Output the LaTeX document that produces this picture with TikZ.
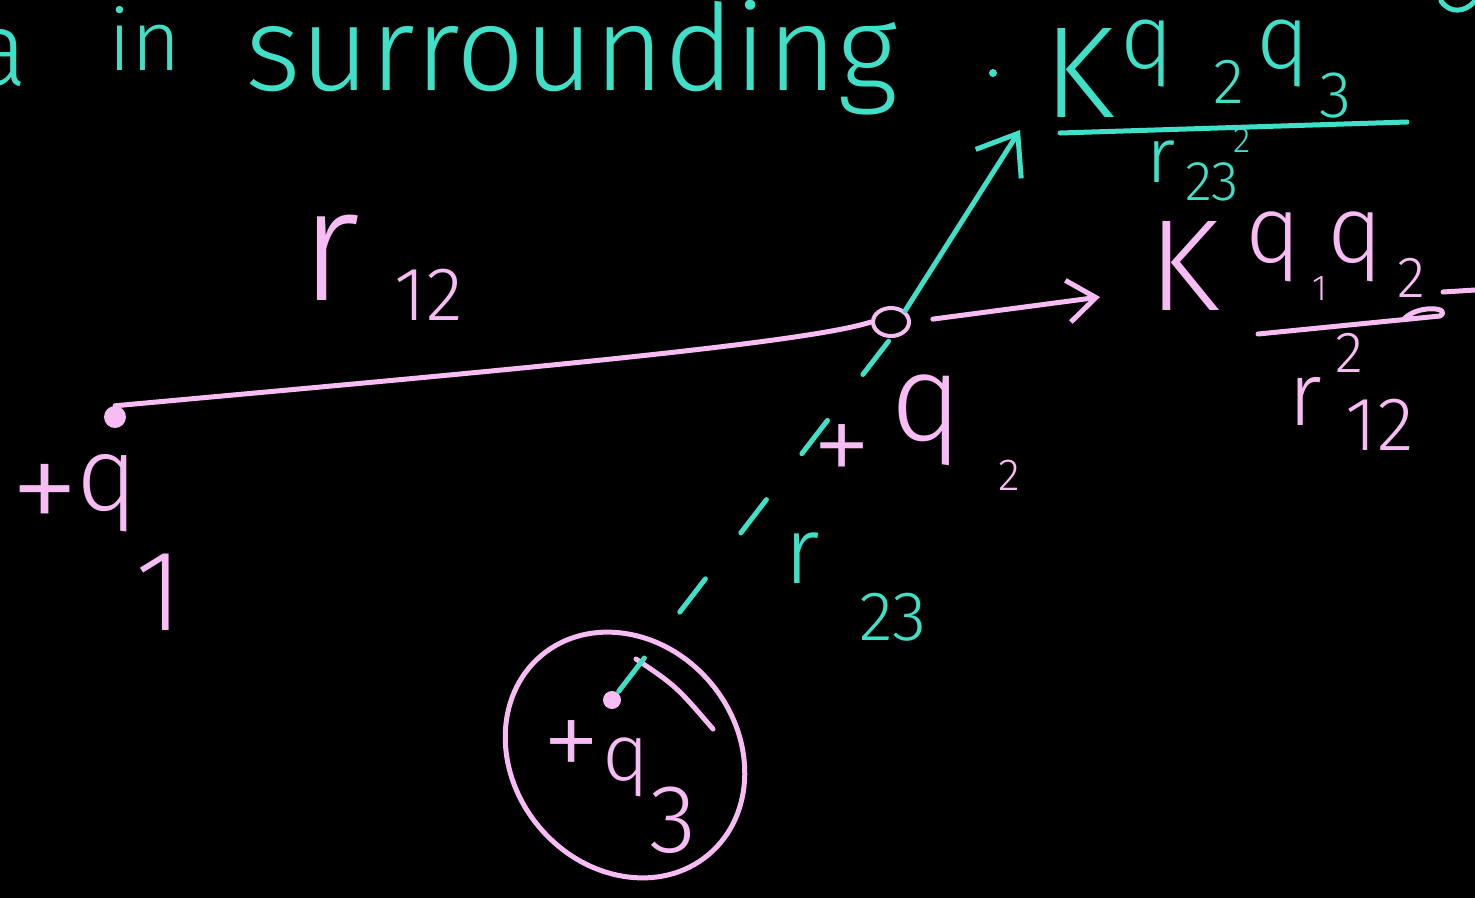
\documentclass[tikz,border=0pt]{standalone}
\usepackage{fontspec}
\setmainfont{Fira Sans}[UprightFont=* Light]
\usepackage{tikz}
\usetikzlibrary{arrows.meta, positioning, shapes.geometric}
\definecolor{chalkteal}{RGB}{64,224,200}
\definecolor{chalkpink}{RGB}{248,188,244}
\newcommand{\lowidx}[3][0pt]{\raisebox{#1}{\fontsize{#2}{#2}\selectfont #3}}

\begin{document}
\begin{tikzpicture}[
  x=1pt, y=-1pt,
  inkteal/.style={draw=chalkteal, line width=5pt, line cap=round, line join=round},
  inkpink/.style={draw=chalkpink, line width=5pt, line cap=round, line join=round},
  tealtext/.style={text=chalkteal, inner sep=0pt, anchor=base west},
  pinktext/.style={text=chalkpink, inner sep=0pt, anchor=base west},
  fs/.style={font=\fontsize{#1}{#1}\selectfont},
  barb/.style={-{Straight Barb[length=#1, width=1.5*#1, line width=5pt]}},
]
  \fill[black] (0,0) rectangle (1475,898);
  \useasboundingbox (0,0) rectangle (1475,898);

  % Heading on the board
  \node[tealtext, fs=105, anchor=base east] (worda) at (28,85) {a};
  \node[tealtext, fs=85] (wordin) at (108,70) {in};
  \node[tealtext, fs=120] (wordsurr) at (245,90) {surrounding};
  \fill[chalkteal] (993,73) circle (4);
  \draw[inkteal] (1441,1) .. controls (1450,14) and (1465,12) .. (1474,2);

  % Charges
  \node[circle, fill=chalkpink, minimum size=22pt, inner sep=0pt] (qone) at (115,417) {};
  \node[ellipse, draw=chalkpink, line width=4pt, minimum width=36pt, minimum height=28pt, inner sep=0pt] (qtwo) at (891,322) {};
  \node[circle, fill=chalkpink, minimum size=18pt, inner sep=0pt] (qthree) at (612,700) {};
  \draw[inkpink, rotate around={-50:(625,755)}] (625,755) ellipse [x radius=130, y radius=112];
  \draw[inkpink] (636,659) .. controls (676,686) .. (713,729);

  % Charge labels
  \node[pinktext, fs=140] (plusone) at (10,535) {+};
  \node[pinktext, fs=105] (labone) at (76,510) {q\kern-2pt\lowidx[-120pt]{115}{1}};
  \node[pinktext, fs=120] (plustwo) at (812,485) {+};
  \node[pinktext, fs=123] (labtwo) at (890,440) {q\kern36pt\lowidx[-50pt]{45}{2}};
  \node[pinktext, fs=118] (plusthree) at (542,780) {+};
  \node[pinktext, fs=80] (labthree) at (602,780) {q\lowidx[-72pt]{97}{3}};

  % Distances
  \draw[inkpink] (qone.north) .. controls (450,375) and (800,345) .. (qtwo.west);
  \node[pinktext, fs=160] (rot) at (300,300) {r\kern35pt\lowidx[-20pt]{76}{12}};
  \draw[inkteal, dash pattern=on 42pt off 58pt, shorten <=11pt] (qthree.center) -- (qtwo.south);
  \node[tealtext, fs=95] (rtt) at (784,583) {r\kern40pt\lowidx[-57pt]{70}{23}};

  % Forces on q2
  \coordinate (pinktip) at (1100,297);
  \coordinate (tealtip) at (1020,130);
  \draw[inkpink, barb=28pt, shorten <=22pt] (qtwo.east) -- (pinktip);
  \draw[inkteal, barb=36pt] (qtwo.north east) -- (tealtip);

  % K q1 q2 / r12^2
  \node[pinktext, fs=130] (kone) at (1148,310) {K};
  \node[pinktext, fs=95] (numone) at (1245,262) {q\kern12pt\lowidx[-38pt]{36}{1}q\kern14pt\lowidx[-35pt]{58}{2}};
  \draw[inkpink] (1258,334) -- (1440,316) .. controls (1452,308) and (1420,304) .. (1405,318);
  \draw[inkpink] (1443,292) -- (1475,290);
  \node[pinktext, fs=90] (denone) at (1288,425) {r\kern14pt\rlap{\lowidx[53pt]{58}{2}}\kern10pt\lowidx[-25pt]{76}{12}};

  % K q2 q3 / r23^2
  \node[tealtext, fs=130] (ktwo) at (1043,117) {K};
  \node[tealtext, fs=91] (numtwo) at (1120,68) {q\kern40pt\lowidx[-35pt]{64}{2}\kern12pt q\kern10pt\lowidx[-49pt]{66}{3}};
  \draw[inkteal] (1060,133) -- (1407,122);
  \node[tealtext, fs=78] (dentwo) at (1146,182) {r\kern10pt\rlap{\kern48pt\lowidx[30pt]{36}{2}}\lowidx[-18pt]{56}{23}};
\end{tikzpicture}
\end{document}
